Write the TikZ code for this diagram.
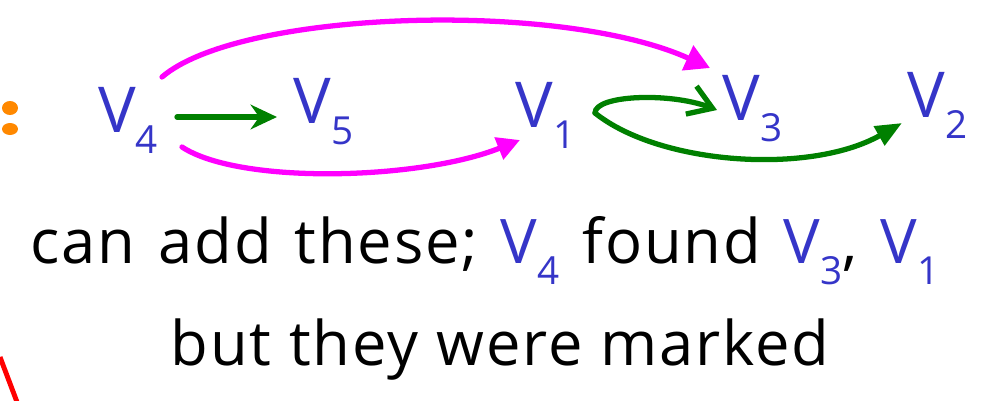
\documentclass[tikz,border=0pt]{standalone}
\usepackage{fontspec}
\setmainfont{Open Sans}
\usetikzlibrary{arrows.meta}
\definecolor{vblue}{RGB}{53,53,200}
\definecolor{hmag}{RGB}{255,0,255}
\definecolor{hgreen}{RGB}{0,128,0}
\definecolor{horange}{RGB}{255,136,0}
\newcommand{\widespaces}{\spaceskip=13pt plus 2pt\relax}
\tikzset{
  vnode/.style={text=vblue, inner sep=0pt, anchor=base west,
                font=\fontsize{36}{36}\selectfont},
  scribble/.style={anchor=base, inner sep=0pt,
                   font=\fontsize{35}{42}\selectfont\addfontfeatures{LetterSpace=3}},
  widescribble/.style={scribble,
                   font=\fontsize{35}{42}\selectfont\addfontfeatures{LetterSpace=3}\widespaces},
  pinkarc/.style={draw=hmag, line width=3pt, line cap=round},
  greenarc/.style={draw=hgreen, line width=3pt, line cap=round},
}
\newcommand{\vname}[1]{V\raisebox{-12pt}{\fontsize{22}{22}\selectfont #1}}
\newcommand{\vblue}[1]{\textcolor{vblue}{\vname{#1}}}

\begin{document}
\begin{tikzpicture}[x=0.02cm, y=-0.02cm]
    \useasboundingbox (0,0) rectangle (992,400);
    \fill[horange] (10,108) ellipse [x radius=8, y radius=7];
    \fill[horange] (10,129) ellipse [x radius=8, y radius=6];
    \draw[red, line width=2.8pt] (0,357) -- (17,402);
    \node[vnode] (v4) at (98,132)  {\vname{4}};
    \node[vnode] (v5) at (293,123) {\vname{5}};
    \node[vnode] (v1) at (515,127) {\vname{1}};
    \node[vnode] (v3) at (722,120) {\vname{3}};
    \node[vnode] (v2) at (907,117) {\vname{2}};
    \node[widescribble] (found) at (485,263) {can add these; \vblue{4} found \vblue{3}, \vblue{1}};
    \node[scribble] (marked) at (500,365) {but they were marked};
    \draw[pinkarc, -{Triangle[length=14pt, width=15pt]}]
      ([shift={(64,-55)}]v4.base west) .. controls +(78,-67) and +(-150,-68) .. ([shift={(-12,-52)}]v3.base west);
    \draw[pinkarc, -{Triangle[length=13pt, width=13pt]}]
      ([shift={(84,15)}]v4.base west) .. controls +(58,38) and +(-100,40) .. ([shift={(5,13)}]v1.base west);
    \draw[greenarc, -{Stealth[length=15pt, width=14pt]}]
      ([shift={(79,-15)}]v4.base west) -- ([shift={(-16,-6)}]v5.base west);
    \draw[greenarc, -{Straight Barb[length=13pt, width=17pt]}]
      ([shift={(80,-14)}]v1.base west) .. controls +(0,-18) and +(-47,-18) .. ([shift={(-5,-10)}]v3.base west);
    \draw[greenarc, -{Triangle[length=15pt, width=12pt]}]
      ([shift={(80,-14)}]v1.base west) .. controls +(65,52) and +(-92,52) .. ([shift={(-5,6)}]v2.base west);
\end{tikzpicture}
\end{document}
